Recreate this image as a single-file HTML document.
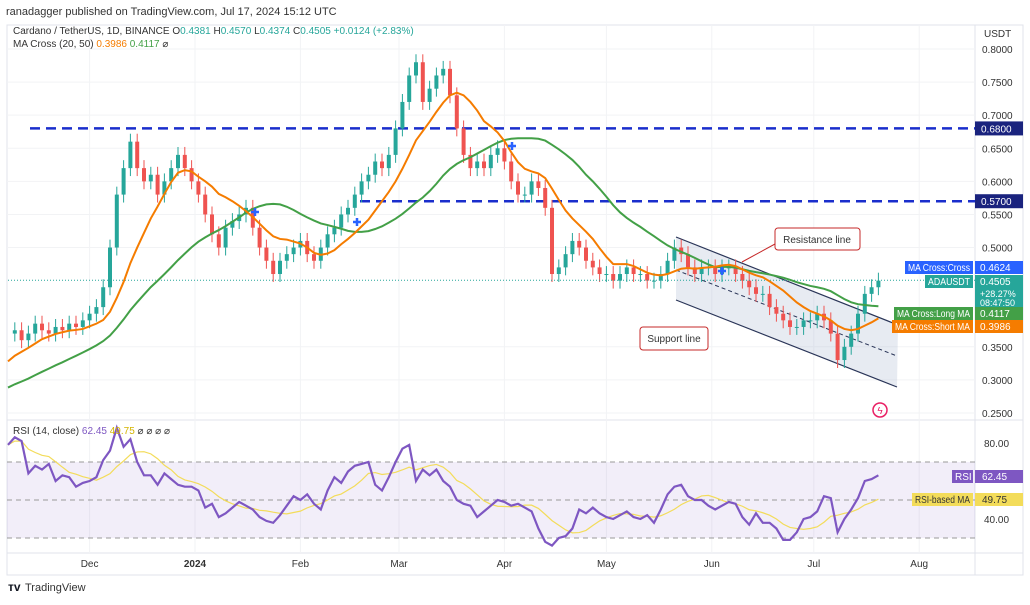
<!DOCTYPE html>
<html><head><meta charset="utf-8"><style>
body{margin:0;background:#fff;width:1030px;height:600px;overflow:hidden;font-family:"Liberation Sans",sans-serif}
svg text{font-family:"Liberation Sans",sans-serif}
</style></head><body>
<svg id="c" width="1030" height="600" xmlns="http://www.w3.org/2000/svg"></svg>
<script>
// closes before visible window (used only for moving averages)
const preCloses=[.25,.25,.255,.26,.255,.25,.25,.255,.26,.26,.26,.265,.27,.27,.28,.29,.29,.30,.31,.32,.31,.33,.34,.35,.36];
// closes every 2 days starting Nov 7 2023
const closes=[.37,.375,.36,.37,.385,.375,.37,.38,.375,.385,.38,.39,.40,.41,.44,.50,.58,.62,.66,.62,.60,.61,.58,.60,.62,.64,.62,.60,.58,.55,.52,.50,.53,.54,.55,.56,.53,.50,.48,.46,.48,.49,.50,.51,.49,.48,.50,.52,.53,.55,.56,.58,.60,.61,.63,.62,.64,.68,.72,.76,.78,.72,.74,.76,.77,.73,.68,.64,.62,.63,.62,.64,.65,.63,.60,.58,.58,.60,.59,.56,.46,.47,.49,.51,.50,.48,.47,.46,.46,.45,.46,.47,.46,.46,.45,.45,.46,.48,.50,.49,.47,.46,.47,.47,.46,.47,.47,.46,.45,.44,.43,.43,.41,.40,.39,.38,.38,.39,.39,.40,.39,.37,.33,.35,.37,.40,.43,.44,.45];
// RSI values per bar
const rsiVals=[79,83,81,64,68,66,69,60,63,62,57,59,60,62,71,76,88,78,82,70,63,63,58,64,61,58,57,57,55,46,48,41,43,46,49,47,45,41,39,38,42,47,52,50,53,48,45,55,62,59,65,68,69,70,58,55,62,70,77,79,60,66,63,66,60,57,50,48,47,41,44,47,50,
49,47,48,46,44,35,28,26,30,31,35,45,43,46,43,41,40,42,44,41,40,42,38,45,53,57,58,52,50,50,47,45,47,49,48,41,37,43,38,38,35,29,29,33,40,41,44,52,51,33,40,45,51,60,61,63];
const priceTicks=[0.80,0.75,0.70,0.65,0.60,0.55,0.50,0.35,0.30,0.25];
const rsiTicks=[80,40];
const timeLabels=["Dec","2024","Feb","Mar","Apr","May","Jun","Jul","Aug"];
const timeDays=[24,55,86,115,146,176,207,237,268]; // days since Nov 7
const levels=[0.68,0.57];

const NS="http://www.w3.org/2000/svg";
const svg=document.getElementById('c');
function el(t,a,p){const e=document.createElementNS(NS,t);for(const k in a)e.setAttribute(k,a[k]);(p||svg).appendChild(e);return e;}
const X0=8, DX=3.4;
const xd=d=>X0+d*DX;
const xb=i=>xd(i*2);
const yp=p=>49+(0.8-p)*661.8;
const yr=r=>500-(r-50)*1.9;

el('rect',{x:7,y:25,width:1016,height:550,fill:'#fff',stroke:'#e0e3eb'});
el('line',{x1:975,y1:25,x2:975,y2:575,stroke:'#e0e3eb'});
el('line',{x1:7,y1:420,x2:1023,y2:420,stroke:'#e0e3eb'});
el('line',{x1:7,y1:553,x2:1023,y2:553,stroke:'#e0e3eb'});
priceTicks.forEach(p=>el('line',{x1:7,y1:yp(p),x2:975,y2:yp(p),stroke:'#f2f3f5'}));
timeDays.forEach(d=>el('line',{x1:xd(d),y1:25,x2:xd(d),y2:553,stroke:'#f2f3f5'}));

let t=el('text',{x:6,y:15,'font-size':11,fill:'#333'});t.textContent='ranadagger published on TradingView.com, Jul 17, 2024 15:12 UTC';

const h=el('text',{x:13,y:34,'font-size':10,fill:'#333'});
h.innerHTML='Cardano / TetherUS, 1D, BINANCE  O<tspan fill="#26a69a">0.4381</tspan>  H<tspan fill="#26a69a">0.4570</tspan>  L<tspan fill="#26a69a">0.4374</tspan>  C<tspan fill="#26a69a">0.4505</tspan>  <tspan fill="#26a69a">+0.0124 (+2.83%)</tspan>';
const m=el('text',{x:13,y:47,'font-size':10,fill:'#333'});
m.innerHTML='MA Cross (20, 50) <tspan fill="#f57c00">0.3986</tspan> <tspan fill="#43a047">0.4117</tspan> ⌀';

el('polygon',{points:'676,237 898,325 897,387 676,300',fill:'#b0bcd4','fill-opacity':0.3});
el('line',{x1:676,y1:237,x2:898,y2:325,stroke:'#2a3558','stroke-width':1.2});
el('line',{x1:676,y1:300,x2:897,y2:387,stroke:'#2a3558','stroke-width':1.2});
el('line',{x1:676,y1:270,x2:897,y2:356,stroke:'#2a3558','stroke-dasharray':'4,3'});

levels.forEach((p,i)=>{const l=el('line',{x1:i?360:30,y1:yp(p),x2:975,y2:yp(p),stroke:'#1a2ecc','stroke-width':2.5,'stroke-dasharray':'10,6'});
});

closes.forEach((c,i)=>{if(i==0)return;const o=closes[i-1];const x=xb(i);const up=c>=o;
 const hi=Math.max(o,c)+0.012,lo=Math.min(o,c)-0.012;const col=up?'#26a69a':'#ef5350';
 const g=el('g',{});
 el('line',{x1:x,y1:yp(hi),x2:x,y2:yp(lo),stroke:col},g);
 el('rect',{x:x-2,y:Math.min(yp(o),yp(c)),width:4,height:Math.max(1,Math.abs(yp(o)-yp(c))),fill:col},g);});
el('line',{x1:8,y1:yp(0.4505),x2:975,y2:yp(0.4505),stroke:'#26a69a','stroke-dasharray':'1,2'});

function sma(a,n){return a.map((_,i)=>{const s=a.slice(Math.max(0,i-n+1),i+1);return s.reduce((x,y)=>x+y,0)/s.length;});}
const allC=preCloses.concat(closes);
const ma20=sma(allC,10).slice(preCloses.length), ma50=sma(allC,25).slice(preCloses.length);
const line=(arr,f,col,w,name)=>{const p=el('polyline',{points:arr.map((v,i)=>xb(i)+','+f(v)).join(' '),fill:'none',stroke:col,'stroke-width':w});return p;};
line(ma50,yp,'#43a047',2,'ma-50-line');
line(ma20,yp,'#f57c00',2,'ma-20-line');
[[255,212],[357,222],[512,146],[722,271]].forEach(([x,y])=>{el('path',{d:`M${x-4},${y}h8M${x},${y-4}v8`,stroke:'#2962ff','stroke-width':2.5});});

el('rect',{x:775,y:228,width:85,height:22,rx:3,fill:'#fff',stroke:'#c62828'});
t=el('text',{x:817,y:243,'font-size':10,fill:'#333','text-anchor':'middle'});t.textContent='Resistance line';
el('path',{d:'M775,244 L742,262',stroke:'#c62828'});
el('rect',{x:640,y:327,width:68,height:23,rx:3,fill:'#fff',stroke:'#c62828'});
t=el('text',{x:674,y:342,'font-size':10,fill:'#333','text-anchor':'middle'});t.textContent='Support line';
el('circle',{cx:880,cy:410,r:7,fill:'none',stroke:'#e91e63','stroke-width':1.5});
t=el('text',{x:880,y:414,'font-size':10,fill:'#e91e63','text-anchor':'middle'});t.textContent='ϟ';

priceTicks.forEach(p=>{const tt=el('text',{x:982,y:yp(p)+4,'font-size':10,fill:'#333'});tt.textContent=p.toFixed(4);});
t=el('text',{x:984,y:37,'font-size':10,fill:'#333'});t.textContent='USDT';
levels.forEach(p=>{el('rect',{x:975,y:yp(p)-7,width:48,height:14,fill:'#1a237e'});const tt=el('text',{x:981,y:yp(p)+4,'font-size':10,fill:'#fff'});tt.textContent=p.toFixed(4);});
function tag(x,y,w,hh,col,txt,val){el('rect',{x:x,y:y,width:w,height:hh,fill:col});let a=el('text',{x:x+3,y:y+10,'font-size':10,fill:'#fff',textLength:w-6,lengthAdjust:'spacingAndGlyphs'});a.textContent=txt;
 el('rect',{x:975,y:y,width:48,height:hh,fill:col});let b=el('text',{x:980,y:y+10,'font-size':10,fill:'#fff'});b.textContent=val;}
tag(905,261,68,13,'#2962ff','MA Cross:Cross','0.4624');
tag(925,275,48,13,'#26a69a','ADAUSDT','0.4505');
el('rect',{x:975,y:288,width:48,height:20,fill:'#26a69a'});
t=el('text',{x:980,y:297,'font-size':9,fill:'#fff'});t.textContent='+28.27%';
t=el('text',{x:980,y:306,'font-size':9,fill:'#fff'});t.textContent='08:47:50';
tag(894,307,79,13,'#43a047','MA Cross:Long MA','0.4117');
tag(892,320,81,13,'#f57c00','MA Cross:Short MA','0.3986');

el('rect',{x:7,y:yr(70),width:968,height:yr(30)-yr(70),fill:'#7e57c2','fill-opacity':0.1});
[70,50,30].forEach(v=>el('line',{x1:7,y1:yr(v),x2:975,y2:yr(v),stroke:'#999','stroke-dasharray':'5,4'}));
const rsiMa=sma(rsiVals,7);
line(rsiMa,yr,'#f3dc5a',1.2,'rsi-ma-line');
line(rsiVals,yr,'#7e57c2',2.2,'rsi-line');
t=el('text',{x:13,y:434,'font-size':10,fill:'#333'});t.innerHTML='RSI (14, close) <tspan fill="#7e57c2">62.45</tspan> <tspan fill="#d4b400">49.75</tspan>  ⌀ ⌀ ⌀ ⌀';
rsiTicks.forEach(v=>{const tt=el('text',{x:984,y:yr(v)+4,'font-size':10,fill:'#333'});tt.textContent=v.toFixed(2);});
el('rect',{x:952,y:470,width:21,height:13,fill:'#7e57c2'});t=el('text',{x:955,y:480,'font-size':10,fill:'#fff'});t.textContent='RSI';
el('rect',{x:975,y:470,width:48,height:13,fill:'#7e57c2'});t=el('text',{x:982,y:480,'font-size':10,fill:'#fff'});t.textContent='62.45';
el('rect',{x:912,y:493,width:61,height:13,fill:'#f3dc5a'});t=el('text',{x:915,y:503,'font-size':10,fill:'#333',textLength:55,lengthAdjust:'spacingAndGlyphs'});t.textContent='RSI-based MA';
el('rect',{x:975,y:493,width:48,height:13,fill:'#f3dc5a'});t=el('text',{x:982,y:503,'font-size':10,fill:'#333'});t.textContent='49.75';

timeLabels.forEach((s,i)=>{const tt=el('text',{x:xd(timeDays[i]),y:567,'font-size':10,fill:'#333','text-anchor':'middle','font-weight':s=='2024'?'bold':'normal'});tt.textContent=s;
 });

t=el('text',{x:8,y:591,'font-size':12,fill:'#131722','font-weight':'bold'});t.textContent='ᴛᴠ';
t=el('text',{x:25,y:591,'font-size':11,fill:'#333'});t.textContent='TradingView';

</script>
</body></html>
